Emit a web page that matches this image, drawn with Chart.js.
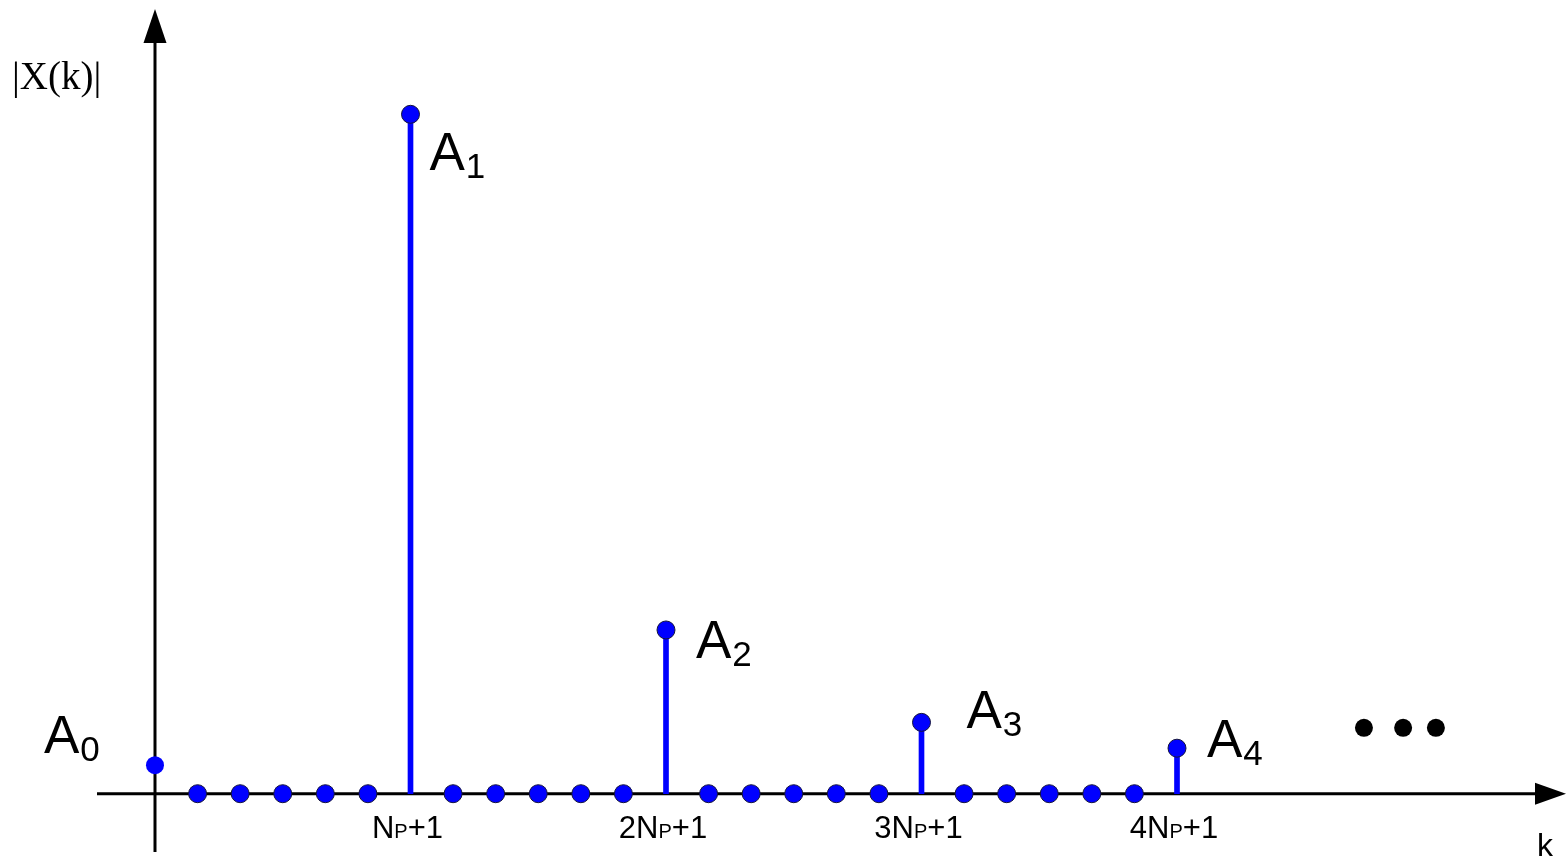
<!DOCTYPE html>
<html>
<head>
<meta charset="utf-8">
<script src="https://cdn.jsdelivr.net/npm/chart.js@4/dist/chart.umd.min.js"></script>
<style>
  html, body { margin: 0; padding: 0; background: #fff; }
  canvas { display: block; }
</style>
</head>
<body>
<canvas id="chart" width="1566" height="861"></canvas>
<script>
// spectral line index k
const kValues = [0, 1, 2, 3, 4, 5, 6, 7, 8, 9, 10, 11, 12, 13, 14, 15, 16, 17, 18, 19, 20, 21, 22, 23, 24];
// |X(k)|, relative to A1
const magnitudes = [0.042, 0, 0, 0, 0, 0, 1.0, 0, 0, 0, 0, 0, 0.241, 0, 0, 0, 0, 0, 0.105, 0, 0, 0, 0, 0, 0.067];
// harmonics that get a name A0..A4
const harmonicK = [0, 6, 12, 18, 24];
const harmonicNames = ['0', '1', '2', '3', '4'];
// labelled ticks on the k axis: "<prefix>Np+1"
const tickK = [6, 12, 18, 24];
const tickPrefix = ['', '2', '3', '4'];
// the "..." after the last harmonic
const dotsK = [28.39, 29.31, 30.08];
const dotsY = [0.097, 0.097, 0.097];

const BLUE = '#0000ff';
const SANS = '"Liberation Sans", Arial, sans-serif';
const SERIF = '"Liberation Serif", "Times New Roman", serif';

// where each A label sits relative to its dot (px): left edge, baseline
const labelOffsets = [[-111, -12], [19, 56], [30, 28], [45, 6], [30, 9]];

// axis lines with arrow heads, drawn under the stems and dots
const axesPlugin = {
  id: 'axes',
  beforeDatasetsDraw(chart) {
    const { ctx, chartArea: area, scales: { x, y } } = chart;
    const x0 = x.getPixelForValue(0);
    const y0 = y.getPixelForValue(0);
    ctx.save();
    ctx.strokeStyle = '#000';
    ctx.fillStyle = '#000';
    ctx.lineWidth = 3;
    // vertical axis
    ctx.beginPath();
    ctx.moveTo(x0, area.bottom);
    ctx.lineTo(x0, area.top + 30);
    ctx.stroke();
    ctx.beginPath();
    ctx.moveTo(x0, area.top);
    ctx.lineTo(x0 - 11.5, area.top + 34);
    ctx.lineTo(x0 + 11.5, area.top + 34);
    ctx.closePath();
    ctx.fill();
    // horizontal axis
    ctx.beginPath();
    ctx.moveTo(area.left, y0);
    ctx.lineTo(area.right - 28, y0);
    ctx.stroke();
    ctx.beginPath();
    ctx.moveTo(area.right, y0);
    ctx.lineTo(area.right - 31, y0 - 11);
    ctx.lineTo(area.right - 31, y0 + 11);
    ctx.closePath();
    ctx.fill();
    ctx.restore();
  }
};

// text: A labels with subscripts, tick labels, axis names
const textPlugin = {
  id: 'texts',
  afterDatasetsDraw(chart) {
    const { ctx, chartArea: area, scales: { x, y } } = chart;
    ctx.save();
    ctx.fillStyle = '#000';
    ctx.textBaseline = 'alphabetic';
    ctx.textAlign = 'left';

    // A0 .. A4
    harmonicK.forEach((k, i) => {
      const px = x.getPixelForValue(k) + labelOffsets[i][0];
      const py = y.getPixelForValue(magnitudes[k]) + labelOffsets[i][1];
      ctx.font = '53px ' + SANS;
      ctx.fillText('A', px, py);
      const w = ctx.measureText('A').width;
      ctx.font = '35px ' + SANS;
      ctx.fillText(harmonicNames[i], px + w + 1, py + 8);
    });

    // tick labels: <prefix>N, subscript P, +1
    const y0 = y.getPixelForValue(0);
    tickK.forEach((k, i) => {
      const parts = [
        [tickPrefix[i] + 'N', '31px ' + SANS],
        ['P', '20px ' + SANS],
        ['+1', '31px ' + SANS]
      ];
      let total = 0;
      parts.forEach(p => { ctx.font = p[1]; total += ctx.measureText(p[0]).width; });
      let cx = x.getPixelForValue(k) - total / 2 - 3;
      parts.forEach(p => {
        ctx.font = p[1];
        ctx.fillText(p[0], cx, y0 + 44);
        cx += ctx.measureText(p[0]).width;
      });
    });

    // axis names
    ctx.font = '32px ' + SANS;
    ctx.fillText('k', area.right - 29, area.bottom + 4);
    ctx.font = '39px ' + SERIF;
    ctx.fillText('|X(k)|', 12, 89);
    ctx.restore();
  }
};

const chart = new Chart(document.getElementById('chart'), {
  type: 'scatter',
  data: {
    datasets: [
      {
        // the sample dots
        type: 'scatter',
        data: kValues.map((k, i) => ({ x: k, y: magnitudes[i] })),
        pointRadius: 9,
        pointHoverRadius: 9,
        pointBackgroundColor: BLUE,
        pointBorderColor: '#14143c',
        pointBorderWidth: ctx => (ctx.dataIndex === 0 ? 0 : 1),
        showLine: false,
        clip: false,
        order: 0
      },
      {
        // stems of the harmonics (A0 sits on the axis, no stem)
        type: 'bar',
        data: harmonicK.filter(k => k > 0).map(k => ({ x: k, y: magnitudes[k] })),
        backgroundColor: BLUE,
        borderWidth: 0,
        barThickness: 5,
        clip: false,
        order: 1
      },
      {
        // "..."
        type: 'scatter',
        data: dotsK.map((k, i) => ({ x: k, y: dotsY[i] })),
        pointRadius: 9,
        pointHoverRadius: 9,
        pointBackgroundColor: '#000',
        pointBorderWidth: 0,
        showLine: false,
        clip: false,
        order: 0
      }
    ]
  },
  options: {
    responsive: false,
    animation: false,
    devicePixelRatio: 1,
    layout: { autoPadding: false, padding: { left: 97, top: 9, right: 0, bottom: 9 } },
    plugins: {
      legend: { display: false },
      tooltip: { enabled: false }
    },
    scales: {
      x: {
        type: 'linear',
        min: -1.362,
        max: 33.135,
        offset: false,
        display: false,
        grid: { offset: false }
      },
      y: {
        type: 'linear',
        min: -0.0858,
        max: 1.155,
        display: false
      }
    }
  },
  plugins: [axesPlugin, textPlugin]
});
</script>
</body>
</html>
